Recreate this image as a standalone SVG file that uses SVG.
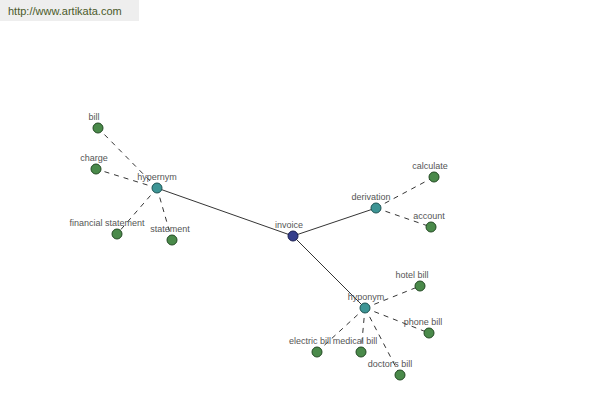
<svg xmlns="http://www.w3.org/2000/svg" width="600" height="400" viewBox="0 0 600 400">
<style>
.lbl{font-family:"Liberation Sans",Arial,sans-serif;font-size:9px;fill:#555;text-anchor:middle}
.leaf{fill:#4a8a4a;stroke:#234a23;stroke-width:1}
.hub{fill:#3d9595;stroke:#1f5555;stroke-width:1}
.root{fill:#343e8c;stroke:#1a1f50;stroke-width:1}
.solid{stroke:#000;stroke-width:0.8;fill:none}
.dash{stroke:#000;stroke-width:0.8;fill:none;stroke-dasharray:5,5}
</style>
<rect x="0" y="0" width="139" height="21" fill="#eeeeee"/>
<text x="8" y="15" font-family="Liberation Sans,Arial,sans-serif" font-size="11" fill="#4b5a2a">http://www.artikata.com</text>
<g id="connectors">
<line class="solid" x1="293" y1="236" x2="157" y2="188"/>
<line class="solid" x1="293" y1="236" x2="376" y2="208"/>
<line class="solid" x1="293" y1="236" x2="365" y2="308"/>
<line class="dash" x1="157" y1="188" x2="98" y2="128"/>
<line class="dash" x1="157" y1="188" x2="96" y2="169"/>
<line class="dash" x1="157" y1="188" x2="117" y2="234"/>
<line class="dash" x1="157" y1="188" x2="172" y2="240"/>
<line class="dash" x1="376" y1="208" x2="434" y2="177"/>
<line class="dash" x1="376" y1="208" x2="431" y2="227"/>
<line class="dash" x1="365" y1="308" x2="420" y2="286"/>
<line class="dash" x1="365" y1="308" x2="429" y2="333"/>
<line class="dash" x1="365" y1="308" x2="317" y2="352"/>
<line class="dash" x1="365" y1="308" x2="361" y2="352"/>
<line class="dash" x1="365" y1="308" x2="400" y2="375"/>
</g>
<g id="invoice"><circle class="root" cx="293" cy="236" r="5"/><text class="lbl" x="289" y="228">invoice</text></g>
<g id="hypernym"><circle class="hub" cx="157" cy="188" r="5"/><text class="lbl" x="157" y="180">hypernym</text></g>
<g id="derivation"><circle class="hub" cx="376" cy="208" r="5"/><text class="lbl" x="371" y="200">derivation</text></g>
<g id="hyponym"><circle class="hub" cx="365" cy="308" r="5"/><text class="lbl" x="366" y="300">hyponym</text></g>
<g id="bill"><circle class="leaf" cx="98" cy="128" r="5"/><text class="lbl" x="94" y="120">bill</text></g>
<g id="charge"><circle class="leaf" cx="96" cy="169" r="5"/><text class="lbl" x="94" y="161">charge</text></g>
<g id="financial-statement"><circle class="leaf" cx="117" cy="234" r="5"/><text class="lbl" x="107" y="226">financial statement</text></g>
<g id="statement"><circle class="leaf" cx="172" cy="240" r="5"/><text class="lbl" x="170" y="232">statement</text></g>
<g id="calculate"><circle class="leaf" cx="434" cy="177" r="5"/><text class="lbl" x="430" y="169">calculate</text></g>
<g id="account"><circle class="leaf" cx="431" cy="227" r="5"/><text class="lbl" x="429" y="219">account</text></g>
<g id="hotel-bill"><circle class="leaf" cx="420" cy="286" r="5"/><text class="lbl" x="412" y="278">hotel bill</text></g>
<g id="phone-bill"><circle class="leaf" cx="429" cy="333" r="5"/><text class="lbl" x="423" y="325">phone bill</text></g>
<g id="electric-bill"><circle class="leaf" cx="317" cy="352" r="5"/><text class="lbl" x="310" y="344">electric bill</text></g>
<g id="medical-bill"><circle class="leaf" cx="361" cy="352" r="5"/><text class="lbl" x="355" y="344">medical bill</text></g>
<g id="doctors-bill"><circle class="leaf" cx="400" cy="375" r="5"/><text class="lbl" x="390" y="367">doctor's bill</text></g>
</svg>
